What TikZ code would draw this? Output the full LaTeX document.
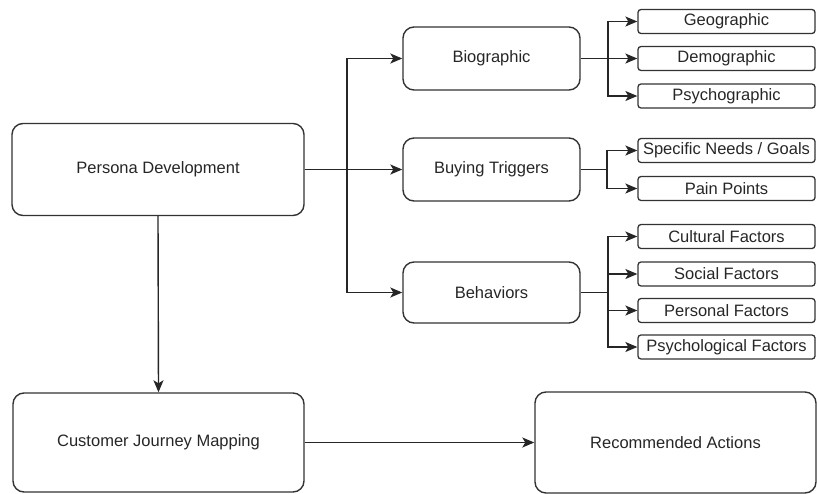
\documentclass[tikz,border=0pt]{standalone}
\usepackage{fontspec}
\setmainfont{Liberation Sans}
\usetikzlibrary{arrows.meta,calc}
\begin{document}
\begin{tikzpicture}[x=1pt,y=-1pt,
  box/.style={draw=black!80,line width=1.4pt,rounded corners=11pt,align=center,
    font=\fontsize{16.5}{18}\selectfont,text=black!85,inner sep=0pt},
  leaf/.style={draw=black!80,line width=1.3pt,rounded corners=3pt,align=center,
    font=\fontsize{16.5}{18}\selectfont,text=black!85,inner sep=0pt,
    minimum width=177pt,minimum height=24pt},
  arr/.style={draw=black!85,line width=1.4pt,-{Stealth[length=12pt,width=10pt,inset=3pt]}},
  ln/.style={draw=black!85,line width=1.4pt}]
\useasboundingbox (0,0) rectangle (817,493);
% main boxes
\node[box,minimum width=292pt,minimum height=92pt] (pd) at (158,169.5) {Persona Development};
\node[box,minimum width=177pt,minimum height=63pt] (bio) at (491.5,58.5) {Biographic};
\node[box,minimum width=177pt,minimum height=63pt] (bt) at (491.5,169.5) {Buying Triggers};
\node[box,minimum width=177pt,minimum height=61pt] (beh) at (491.5,292.5) {Behaviors};
\node[box,minimum width=291pt,minimum height=99pt] (cjm) at (158.5,442.5) {Customer Journey Mapping};
\node[box,minimum width=281pt,minimum height=101pt] (ra) at (675.5,442.5) {Recommended Actions};
% leaves
\node[leaf] (geo) at (726.5,21.5) {Geographic};
\node[leaf] (dem) at (726.5,58.5) {Demographic};
\node[leaf] (psy) at (726.5,96) {Psychographic};
\node[leaf] (sng) at (726.5,150.5) {Specific Needs / Goals};
\node[leaf] (pp) at (726.5,188.5) {Pain Points};
\node[leaf] (cf) at (726.5,236.5) {Cultural Factors};
\node[leaf] (sf) at (726.5,274) {Social Factors};
\node[leaf] (pf) at (726.5,310.5) {Personal Factors};
\node[leaf] (psf) at (726.5,347) {Psychological Factors};
% junctions
\coordinate (trunk) at (347,169.5);
\coordinate (bb) at (608,58.5);
\coordinate (tb) at (607,169.5);
\coordinate (hb) at (608,292.5);
% connectors
\draw[arr] (pd.east) -- (bt.west);
\draw[arr] (trunk) |- (bio.west);
\draw[arr] (trunk) |- (beh.west);
\draw[arr] (pd.south) -- (cjm.north);
\draw[arr] (cjm.east) -- (ra.west);
\draw[arr] (bio.east) -- (dem.west);
\draw[arr] (bb) |- (geo.west);
\draw[arr] (bb) |- (psy.west);
\draw[ln] (bt.east) -- (tb);
\draw[arr] (tb) |- (sng.west);
\draw[arr] (tb) |- (pp.west);
\draw[ln] (beh.east) -- (hb);
\draw[arr] (hb) |- (cf.west);
\draw[arr] (hb) |- (sf.west);
\draw[arr] (hb) |- (pf.west);
\draw[arr] (hb) |- (psf.west);
\end{tikzpicture}
\end{document}
